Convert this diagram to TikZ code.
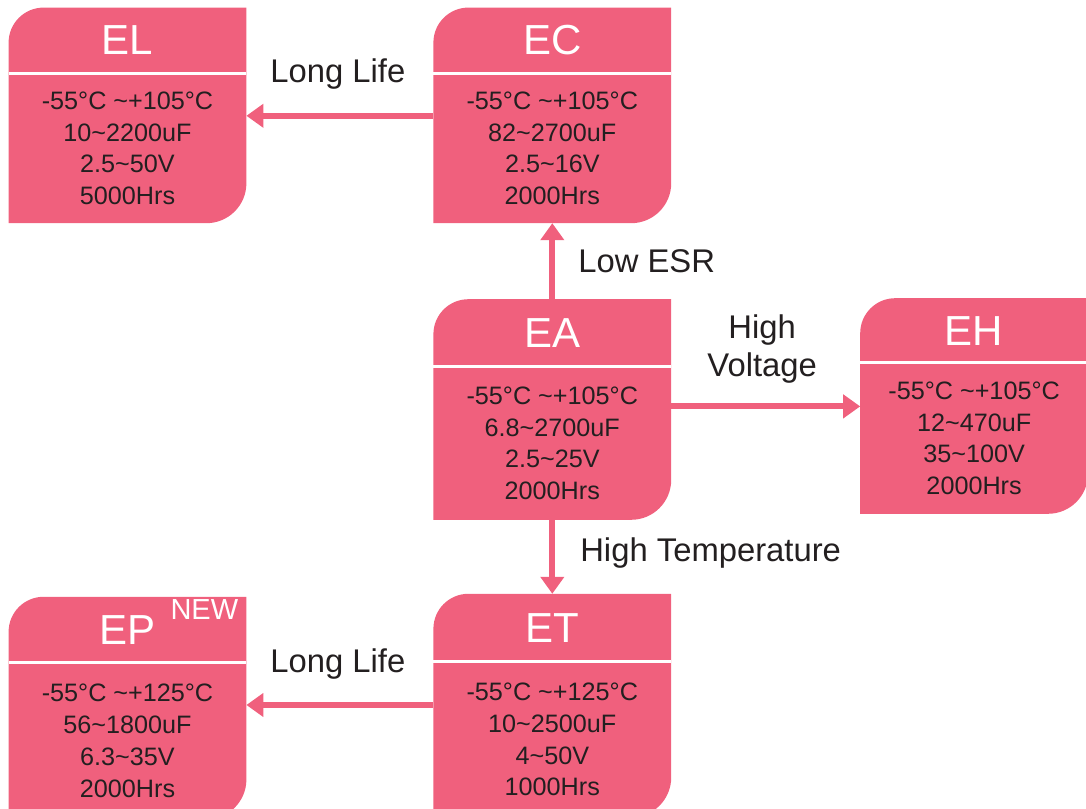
\documentclass[tikz,border=0pt]{standalone}
\usepackage{fontspec}
\setmainfont{Liberation Sans}
\usepackage{xcolor}
\usepackage{tikz}
\usetikzlibrary{arrows.meta, positioning, backgrounds}
\definecolor{rosa}{RGB}{240,96,125}
\definecolor{ink}{RGB}{35,31,32}
\tikzstyle{head} = [
    rectangle,
    minimum width=118.5pt,
    minimum height=32.5pt,
    inner sep=0pt,
    text=white,
    font=\fontsize{21}{24}\selectfont
]
\tikzstyle{body} = [
    rectangle,
    minimum width=118.5pt,
    minimum height=75pt,
    inner sep=0pt,
    align=center,
    text=ink,
    font=\fontsize{12.6}{15.9}\selectfont
]
\tikzstyle{tag} = [
    inner sep=2pt,
    align=center,
    text=ink,
    font=\fontsize{16.4}{19}\selectfont
]
\tikzstyle{link} = [
    draw=rosa,
    line width=3pt,
    -{Triangle[length=8.5pt, width=11.5pt]}
]

\begin{document}
\begin{tikzpicture}

\useasboundingbox (0,0) rectangle (543pt,404pt);

\node (EL) [head] at (63.75pt,383.75pt)
{EL};

\node (EL-b) [body, below=0pt of EL, minimum height=74.5pt]
{-55°C \textasciitilde+105°C\\10\textasciitilde 2200uF\\2.5\textasciitilde 50V\\5000Hrs};

\node (EC) [head, right=93.5pt of EL]
{EC};

\node (EC-b) [body, below=0pt of EC, minimum height=74.5pt]
{-55°C \textasciitilde+105°C\\82\textasciitilde 2700uF\\2.5\textasciitilde 16V\\2000Hrs};

\node (EA) [head, below=38pt of EC-b, minimum height=33.5pt]
{EA};

\node (EA-b) [body, below=0pt of EA, minimum height=76pt]
{-55°C \textasciitilde+105°C\\6.8\textasciitilde 2700uF\\2.5\textasciitilde 25V\\2000Hrs};

\node (EH) [head, right=94.5pt of EA, yshift=1.25pt, minimum width=113.5pt, minimum height=32pt]
{EH};

\node (EH-b) [body, below=0pt of EH, minimum width=113.5pt]
{-55°C \textasciitilde+105°C\\12\textasciitilde 470uF\\35\textasciitilde 100V\\2000Hrs};

\node (ET) [head, below=37pt of EA-b, minimum height=33.5pt]
{ET};

\node (ET-b) [body, below=0pt of ET, minimum height=77.5pt]
{-55°C \textasciitilde+125°C\\10\textasciitilde 2500uF\\4\textasciitilde 50V\\1000Hrs};

\node (EP) [head, left=93.5pt of ET, yshift=-1pt]
{EP\rlap{\hspace{7.5pt}\smash{\raisebox{12.5pt}{\fontsize{14.5}{14.5}\selectfont NEW}}}};

\node (EP-b) [body, below=0pt of EP, minimum height=78pt]
{-55°C \textasciitilde+125°C\\56\textasciitilde 1800uF\\6.3\textasciitilde 35V\\2000Hrs};

\begin{scope}[on background layer]
\foreach \n in {EL,EC,EA,EH,EP,ET}
{
\fill [rosa] (\n-b.south west) -- ([yshift=-17.5pt]\n.north west)
    arc [start angle=180, end angle=90, radius=17.5pt]
    -- (\n.north east) -- ([yshift=20pt]\n-b.south east)
    arc [start angle=0, end angle=-90, radius=20pt] -- cycle;
\draw [white, line width=1.5pt] (\n.south west) -- (\n.south east);
}
\end{scope}

\draw [link]
([yshift=16.25pt]EC-b.west) -- node[tag, yshift=21pt, xshift=-1pt] {Long Life} ([yshift=16.25pt]EL-b.east);

\draw [link]
(EA.north) -- node[tag, right=9.5pt] {Low ESR} (EC-b.south);

\coordinate (volt) at ([yshift=18.5pt]EA-b.east);

\draw [link]
(volt) -- node[tag, yshift=28.75pt, xshift=-1.75pt] {High\\Voltage} (volt -| EH-b.west);

\draw [link]
(EA-b.south) -- node[tag, right=10.5pt, yshift=2pt] {High Temperature} (ET.north);

\coordinate (life) at ([yshift=17.25pt]ET-b.west);

\draw [link]
(life) -- node[tag, yshift=20.5pt, xshift=-1pt] {Long Life} (life -| EP-b.east);

\end{tikzpicture}
\end{document}
